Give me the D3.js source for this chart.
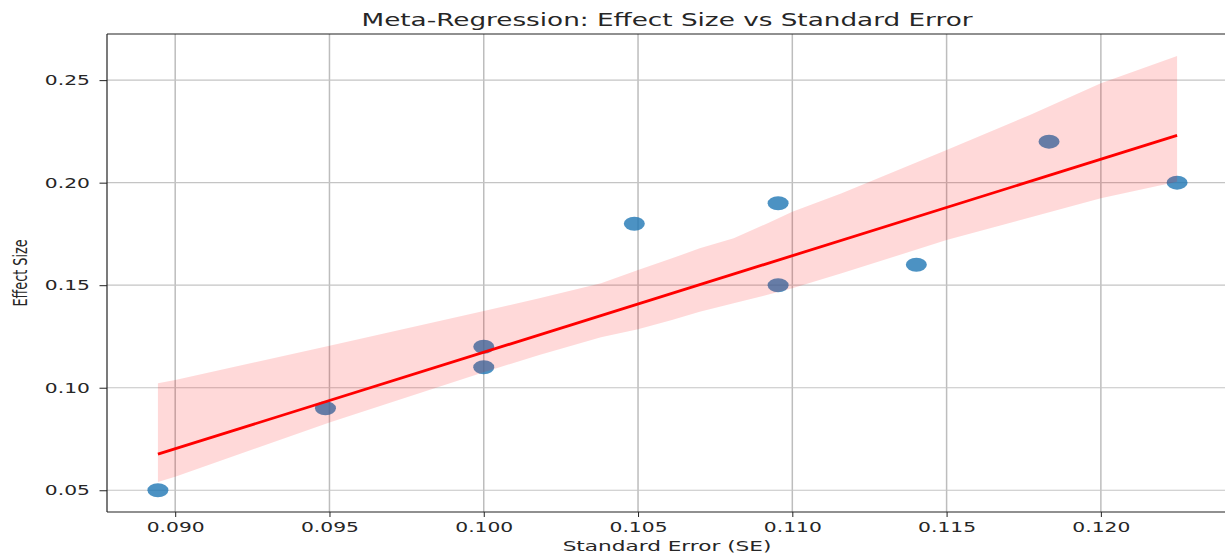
<!DOCTYPE html>
<html>
<head>
<meta charset="utf-8">
<script src="https://cdn.jsdelivr.net/npm/d3@7"></script>
<style>
  html, body { margin: 0; padding: 0; background: #fff; }
  svg { display: block; }
  text { font-family: "DejaVu Sans", sans-serif; fill: #262626; }
</style>
</head>
<body>
<svg id="chart" width="1225" height="554"></svg>
<script>
// ---- data ----
const standardErrors = [0.08944, 0.09487, 0.10000, 0.10000, 0.10488, 0.10954, 0.10954, 0.11402, 0.11832, 0.12247];
const effectSizes    = [0.05,    0.09,    0.12,    0.11,    0.18,    0.19,    0.15,    0.16,    0.22,    0.20];

// confidence band
const bandSE    = [0.08944, 0.0900, 0.0950, 0.1000, 0.1018, 0.1038, 0.1050, 0.1061, 0.1070, 0.1081, 0.1092, 0.1100, 0.1116, 0.1150, 0.1177, 0.1200, 0.12247];
const bandUpper = [0.1022,  0.1038, 0.1205, 0.1374, 0.1436, 0.1509, 0.1574, 0.1631, 0.1680, 0.1729, 0.1802, 0.1858, 0.1948, 0.2159, 0.2330, 0.2485, 0.2618];
const bandLower = [0.0540,  0.0566, 0.0830, 0.1075, 0.1160, 0.1246, 0.1285, 0.1330, 0.1371, 0.1412, 0.1453, 0.1485, 0.1558, 0.1720, 0.1830, 0.1924, 0.2005];

const xTicks = [0.090, 0.095, 0.100, 0.105, 0.110, 0.115, 0.120];
const xTickLabels = ["0.090", "0.095", "0.100", "0.105", "0.110", "0.115", "0.120"];
const yTicks = [0.05, 0.10, 0.15, 0.20, 0.25];
const yTickLabels = ["0.05", "0.10", "0.15", "0.20", "0.25"];

const titleText = "Meta-Regression: Effect Size vs Standard Error";
const xLabelText = "Standard Error (SE)";
const yLabelText = "Effect Size";

(function () {
// ---- layout ----
const SX = 1.48; // horizontal stretch of the picture
const pL = 107, pR = 1228, pT = 34, pB = 512;

const svg = d3.select("#chart");
const x = d3.scaleLinear().domain([0.08779, 0.12412]).range([pL, pR]);
const y = d3.scaleLinear().domain([0.0394, 0.2725]).range([pB, pT]);

// grid
const grid = svg.append("g");
grid.selectAll("line.vx").data(xTicks).join("line").attr("class", "vx")
  .attr("x1", d => x(d)).attr("x2", d => x(d)).attr("y1", pT).attr("y2", pB)
  .attr("stroke", "#bdbdbd").attr("stroke-width", 1.5);
grid.selectAll("line.hy").data(yTicks).join("line").attr("class", "hy")
  .attr("x1", pL).attr("x2", pR).attr("y1", d => y(d)).attr("y2", d => y(d))
  .attr("stroke", "#c4c4c4").attr("stroke-width", 1.2);

// points (drawn under the band, as in the original)
const pts = standardErrors.map((s, i) => ({ s, e: effectSizes[i] }));
svg.append("g").selectAll("ellipse").data(pts).join("ellipse")
  .attr("cx", d => x(d.s)).attr("cy", d => y(d.e))
  .attr("rx", 10.5).attr("ry", 7)
  .attr("fill", "#1f77b4").attr("fill-opacity", 0.8);

// band
const band = bandSE.map((s, i) => ({ s, u: bandUpper[i], l: bandLower[i] }));
svg.append("path").datum(band)
  .attr("d", d3.area().x(d => x(d.s)).y0(d => y(d.l)).y1(d => y(d.u)))
  .attr("fill", "#ff0000").attr("fill-opacity", 0.15);

// regression line (least squares on the data)
const mx = d3.mean(standardErrors), my = d3.mean(effectSizes);
const sxy = d3.sum(standardErrors, (s, i) => (s - mx) * (effectSizes[i] - my));
const sxx = d3.sum(standardErrors, s => (s - mx) * (s - mx));
const slope = sxy / sxx, icpt = my - slope * mx;
const xExt = d3.extent(standardErrors);
svg.append("path").datum(xExt)
  .attr("d", d3.line().x(d => x(d)).y(d => y(icpt + slope * d)))
  .attr("stroke", "#ff0000").attr("stroke-width", 2.8).attr("fill", "none");

// axes
const xAxis = svg.append("g").attr("transform", `translate(0,${pB})`)
  .call(d3.axisBottom(x).tickValues(xTicks).tickFormat((d, i) => xTickLabels[i]).tickSize(5).tickSizeOuter(0));
const yAxis = svg.append("g").attr("transform", `translate(${pL},0)`)
  .call(d3.axisLeft(y).tickValues(yTicks).tickFormat((d, i) => yTickLabels[i]).tickSize(7.5).tickSizeOuter(0));
[xAxis, yAxis].forEach(a => {
  a.select(".domain").remove();
  a.selectAll(".tick line").attr("stroke", "#222").attr("stroke-width", 1);
  a.selectAll(".tick text").attr("font-size", 13.7).attr("fill", "#262626")
    .attr("font-family", "DejaVu Sans");
});
xAxis.selectAll(".tick text").attr("y", 0).attr("dy", 0)
  .attr("transform", `translate(0,19.5) scale(${SX},1)`);
yAxis.selectAll(".tick text").attr("x", 0)
  .attr("transform", `translate(-17,0) scale(${SX},1)`);

// spines
const spine = (x1, y1, x2, y2) => svg.append("line").attr("x1", x1).attr("y1", y1).attr("x2", x2).attr("y2", y2)
  .attr("stroke", "#222").attr("stroke-width", 1.2);
spine(pL, pT, pL, pB);
spine(pL, pB, pR, pB);
spine(pL, pT, pR, pT);
spine(pR, pT, pR, pB);

// title & labels
svg.append("text").text(titleText)
  .attr("text-anchor", "middle").attr("font-size", 17.5)
  .attr("textLength", 611 / SX).attr("lengthAdjust", "spacingAndGlyphs")
  .attr("transform", `translate(667,25.5) scale(${SX},1)`);
svg.append("text").text(xLabelText)
  .attr("text-anchor", "middle").attr("font-size", 14.6)
  .attr("transform", `translate(667,550.5) scale(${SX},1)`);
svg.append("text").text(yLabelText)
  .attr("text-anchor", "middle").attr("font-size", 14.6)
  .attr("textLength", 67).attr("lengthAdjust", "spacingAndGlyphs")
  .attr("transform", `translate(27,273) scale(1.32,1) rotate(-90)`);
})();
</script>
</body>
</html>
